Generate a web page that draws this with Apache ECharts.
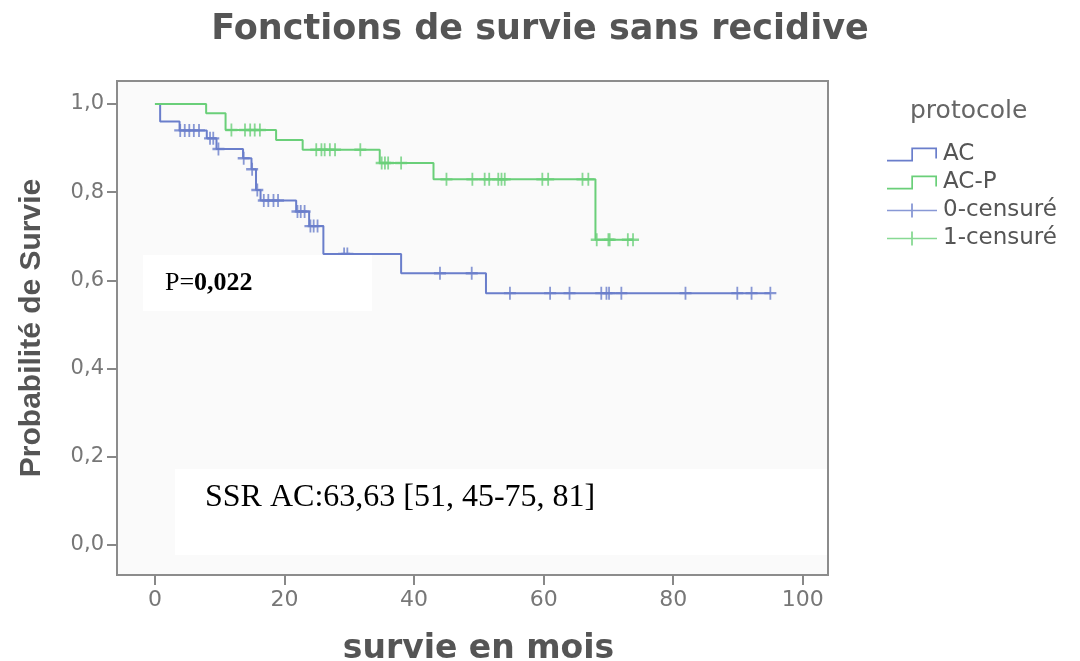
<!DOCTYPE html>
<html>
<head>
<meta charset="utf-8">
<script src="https://cdn.jsdelivr.net/npm/echarts@6/dist/echarts.min.js"></script>
<style>
html,body{margin:0;padding:0;background:#fff;}
#chart{width:1080px;height:661px;}
</style>
</head>
<body>
<div id="chart"></div>
<script>
// Kaplan-Meier steps [months, survival]
const acSteps = [[0,1.0],[0.8,0.96],[3.8,0.94],[8.0,0.922],[9.5,0.898],[13.6,0.877],[14.9,0.852],[15.6,0.805],[16.3,0.781],[21.8,0.756],[23.8,0.723],[26.0,0.66],[38.0,0.616],[51.1,0.571],[95.0,0.571]];
const acpSteps = [[0,1.0],[7.9,0.979],[10.9,0.941],[18.7,0.918],[22.8,0.896],[34.7,0.866],[43.0,0.829],[68.0,0.692],[73.8,0.692]];
// censored observations [months, survival]
const acCensored = [[3.9,0.94],[4.6,0.94],[5.3,0.94],[6.0,0.94],[6.8,0.94],[8.5,0.922],[9.0,0.922],[9.8,0.898],[13.7,0.877],[15.0,0.852],[15.8,0.805],[16.8,0.781],[17.5,0.781],[18.3,0.781],[19.0,0.781],[22.0,0.756],[22.5,0.756],[23.1,0.756],[24.0,0.723],[24.5,0.723],[25.1,0.723],[29.2,0.66],[29.7,0.66],[44.0,0.616],[48.9,0.616],[54.8,0.571],[61.0,0.571],[64.0,0.571],[68.9,0.571],[69.7,0.571],[70.1,0.571],[72.0,0.571],[81.9,0.571],[89.9,0.571],[92.1,0.571],[95.0,0.571]];
const acpCensored = [[11.8,0.941],[13.9,0.941],[14.7,0.941],[15.4,0.941],[16.2,0.941],[24.9,0.896],[25.7,0.896],[26.2,0.896],[27.0,0.896],[27.8,0.896],[31.7,0.896],[35.0,0.866],[35.5,0.866],[36.0,0.866],[38.0,0.866],[45.0,0.829],[49.0,0.829],[50.9,0.829],[51.6,0.829],[53.0,0.829],[53.5,0.829],[54.0,0.829],[59.8,0.829],[60.7,0.829],[66.0,0.829],[66.9,0.829],[68.2,0.692],[70.0,0.692],[70.2,0.692],[73.0,0.692],[73.8,0.692]];
const seriesNames = ['AC','AC-P','0-censuré','1-censuré'];
const xTicks = [0,20,40,60,80,100];
const yTicks = [0,0.2,0.4,0.6,0.8,1.0];
const pText = ['P=','0,022'];
const ssrText = 'SSR AC:63,63 [51, 45-75, 81]';

const BLUE = '#6a7ecb', GREEN = '#6acf79';
const plusPath = 'path://M5.1,0h1.8v13h-1.8z M0,5.3h12v2.4h-12z';
const stepIcon = 'path://M0,12.3h26v1.7h-26z M24.3,0h1.7v14h-1.7z M24.3,0h25.7v1.7h-25.7z M48.3,0h1.7v11h-1.7z';
const legendPlus = 'path://M0,6.2h50v1.6h-50z M24.1,0h1.8v14h-1.8z';

const chart = echarts.init(document.getElementById('chart'), null, {renderer:'canvas'});
chart.setOption({
  backgroundColor:'#fff',
  animation:false,
  title:[
    {text:'Fonctions de survie sans recidive', left:'center', top:7,
     textStyle:{fontFamily:'DejaVu Sans', fontWeight:'bold', fontSize:35, color:'#555'}},
    {text:'protocole', left:905, top:94,
     textStyle:{fontFamily:'DejaVu Sans', fontWeight:'normal', fontSize:25, color:'#666'}}
  ],
  grid:{left:117, top:81, right:252, bottom:86, outerBoundsMode:'none', containLabel:false,
        show:true, backgroundColor:'#fafafa', borderColor:'#8c8c8c', borderWidth:2},
  legend:{
    orient:'vertical', left:882, top:138, itemWidth:50, itemHeight:14, itemGap:5,
    itemStyle:{borderWidth:0}, lineStyle:{width:0},
    textStyle:{fontFamily:'DejaVu Sans', fontSize:23, color:'#555', padding:[0,0,0,1]},
    data:[
      {name:seriesNames[0], icon:stepIcon},
      {name:seriesNames[1], icon:stepIcon},
      {name:seriesNames[2], icon:legendPlus},
      {name:seriesNames[3], icon:legendPlus}
    ]
  },
  xAxis:{
    type:'value', min:-5.86, max:103.9,
    name:'survie en mois', nameLocation:'middle', nameGap:58,
    nameTextStyle:{fontFamily:'DejaVu Sans', fontWeight:'bold', fontSize:33, color:'#555', padding:[0,0,0,12]},
    axisLine:{show:true, onZero:false, lineStyle:{color:'#8c8c8c', width:2}},
    axisTick:{show:true, inside:false, length:10, lineStyle:{color:'#888', width:2}, customValues:xTicks},
    axisLabel:{fontFamily:'DejaVu Sans', fontSize:22, color:'#777', margin:14, customValues:xTicks,
      formatter:v=>String(v)},
    splitLine:{show:false}
  },
  yAxis:{
    type:'value', min:-0.068, max:1.052,
    name:'Probabilité de Survie', nameLocation:'middle', nameGap:70, nameRotate:90,
    nameTextStyle:{fontFamily:'Liberation Sans', fontWeight:'bold', fontSize:30, color:'#555'},
    axisLine:{show:true, onZero:false, lineStyle:{color:'#8c8c8c', width:2}},
    axisTick:{show:true, inside:false, length:10, lineStyle:{color:'#888', width:2}, customValues:yTicks},
    axisLabel:{fontFamily:'DejaVu Sans', fontSize:21, color:'#777', margin:13, customValues:yTicks,
      formatter:v=>v.toFixed(1).replace('.',',')},
    splitLine:{show:false}
  },
  series:[
    {name:seriesNames[0], type:'line', step:'end', data:acSteps, showSymbol:false, symbol:'none',
     color:BLUE, lineStyle:{color:BLUE, width:2}, z:3},
    {name:seriesNames[1], type:'line', step:'end', data:acpSteps, showSymbol:false, symbol:'none',
     color:GREEN, lineStyle:{color:GREEN, width:2}, z:3},
    {name:seriesNames[2], type:'scatter', data:acCensored, symbol:plusPath, symbolSize:[12,13],
     itemStyle:{color:BLUE}, z:4},
    {name:seriesNames[3], type:'scatter', data:acpCensored, symbol:plusPath, symbolSize:[12,13],
     itemStyle:{color:GREEN}, z:4}
  ],
  graphic:[
    {type:'rect', left:143, top:255, z:100, shape:{width:229, height:56}, style:{fill:'#fff'}},
    {type:'text', left:165, top:270, z:101, style:{
      text:'{n|'+pText[0]+'}{b|'+pText[1]+'}',
      rich:{n:{fontFamily:'Liberation Serif', fontSize:26, fill:'#000'},
            b:{fontFamily:'Liberation Serif', fontSize:26, fontWeight:'bold', fill:'#000'}}}},
    {type:'rect', left:175, top:469, z:100, shape:{width:652, height:86}, style:{fill:'#fff'}},
    {type:'text', left:205, top:482, z:101, style:{
      text:ssrText, fontFamily:'Liberation Serif', fontSize:32, fill:'#000'}}
  ]
});
</script>
</body>
</html>
